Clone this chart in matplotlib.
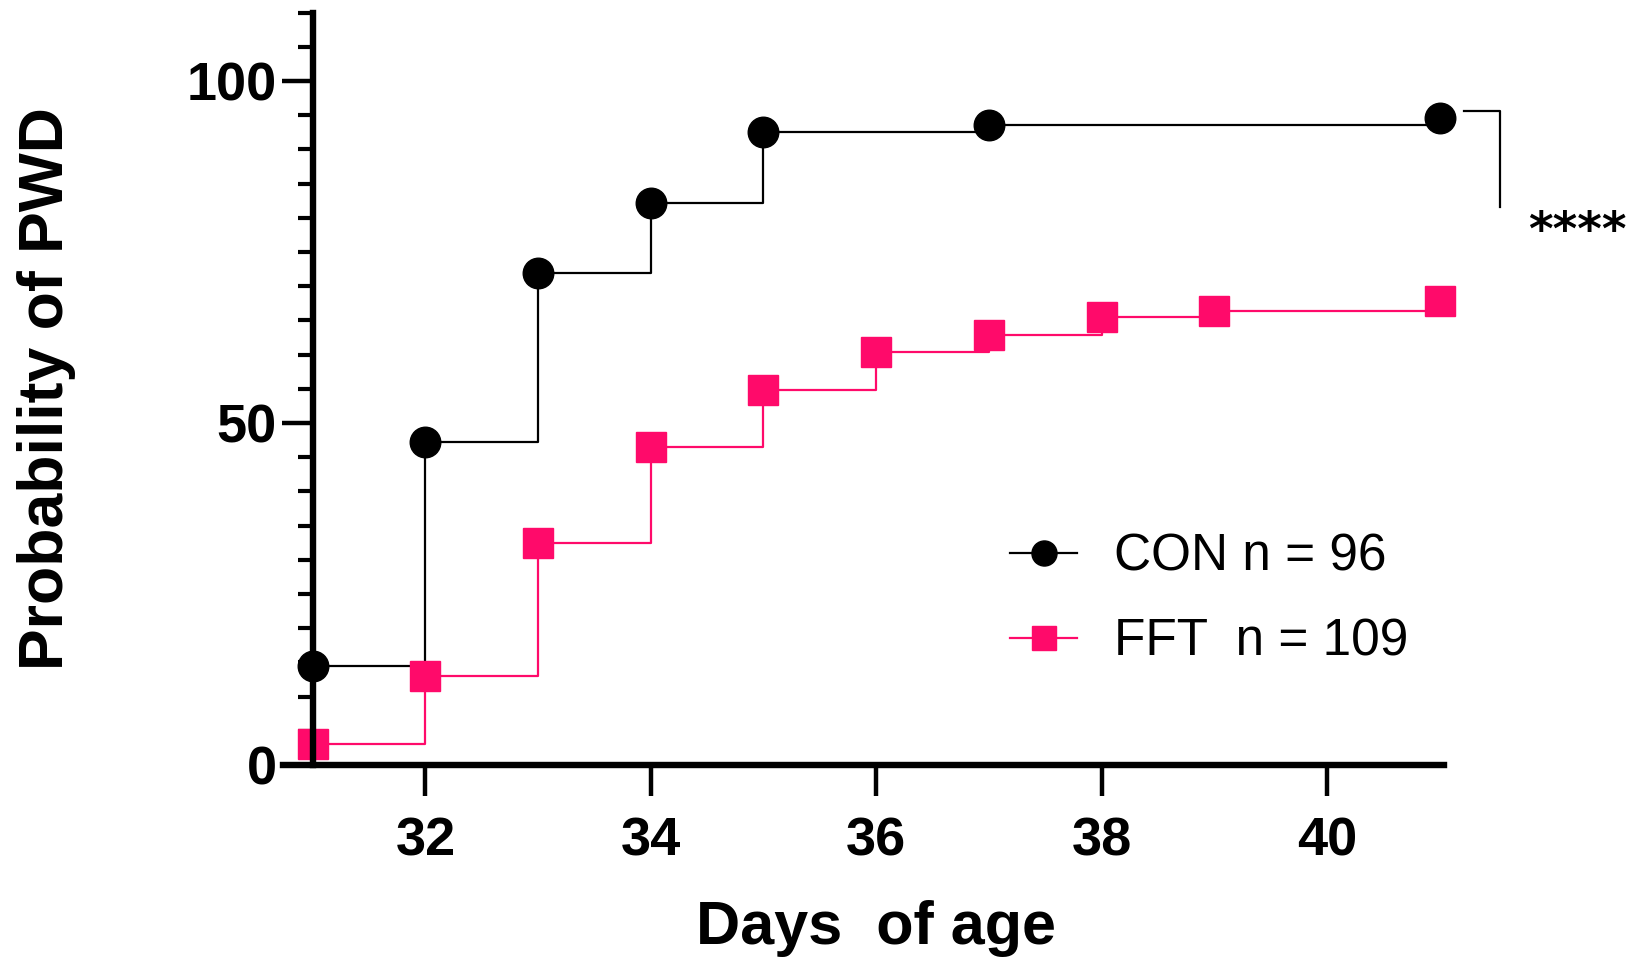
import numpy as np
import matplotlib
matplotlib.use('Agg')
import matplotlib.pyplot as plt
from matplotlib.ticker import MultipleLocator

plt.rcParams['font.family'] = ['Liberation Sans', 'DejaVu Sans']

# 資料 (Kaplan-Meier 累積機率, %)
con_days = [31, 32, 33, 34, 35, 37, 41]
con_prob = [14.4, 47.2, 71.9, 82.2, 92.5, 93.6, 94.6]

fft_days = [31, 32, 33, 34, 35, 36, 37, 38, 39, 41]
fft_prob = [3.1, 13.0, 32.5, 46.5, 54.8, 60.4, 62.9, 65.5, 66.4, 67.8]

con_label = 'CON n = 96'
fft_label = 'FFT  n = 109'
x_ticks = [32, 34, 36, 38, 40]
y_ticks = [0, 50, 100]

pink = '#FF0A6A'

fig = plt.figure(figsize=(16.43, 9.65), dpi=100)
ax = fig.add_axes([0.1722, 0.2073, 0.7067, 0.7796])

ax.plot(con_days, con_prob, drawstyle='steps-post', color='black', lw=1.6,
        marker='o', markersize=22, clip_on=False, label=con_label, zorder=3)
ax.plot(fft_days, fft_prob, drawstyle='steps-post', color=pink, lw=1.6,
        marker='s', markersize=21, clip_on=False, label=fft_label, zorder=3)

ax.set_xlim(30.735, 41.04)
ax.set_ylim(0, 110)

# 軸線
for s in ['top', 'right']:
    ax.spines[s].set_visible(False)
ax.spines['left'].set_position(('data', 31))
ax.spines['left'].set_linewidth(4.6)
ax.spines['bottom'].set_linewidth(4.6)
ax.spines['left'].set_zorder(4)
ax.spines['bottom'].set_zorder(4)

ax.set_xticks(x_ticks)
ax.set_xticklabels([str(t) for t in x_ticks])
ax.set_yticks(y_ticks)
ax.set_yticklabels([str(t) for t in y_ticks])
ax.yaxis.set_minor_locator(MultipleLocator(5))
ax.tick_params(axis='y', which='major', length=22, width=3.2, pad=4,
               labelsize=39)
ax.tick_params(axis='y', which='minor', length=11, width=3.0)
ax.tick_params(axis='x', which='major', length=22, width=3.2, pad=15,
               labelsize=39)
for lab in ax.get_xticklabels() + ax.get_yticklabels():
    lab.set_fontweight('bold')

ax.set_xlabel('Days  of age', fontsize=44, fontweight='bold')
ax.xaxis.set_label_coords(0.511, -0.179)
ax.set_ylabel('Probability of PWD', fontsize=45, fontweight='bold')
ax.yaxis.set_label_coords(-0.178, 0.5)

# 顯著性標記
ax.plot([41.22, 41.54, 41.54], [95.6, 95.6, 81.6], color='black', lw=1.6,
        clip_on=False)
ax.text(42.22, 77.8, '****', fontsize=34, fontweight='bold',
        family='DejaVu Sans', ha='center', va='center')

leg = ax.legend(loc='upper left', bbox_to_anchor=(0.586, 0.37), frameon=False,
                fontsize=37, handlelength=1.32, handletextpad=0.72,
                labelspacing=0.7, markerscale=0.82)

fig.savefig('out.png', dpi=100)
